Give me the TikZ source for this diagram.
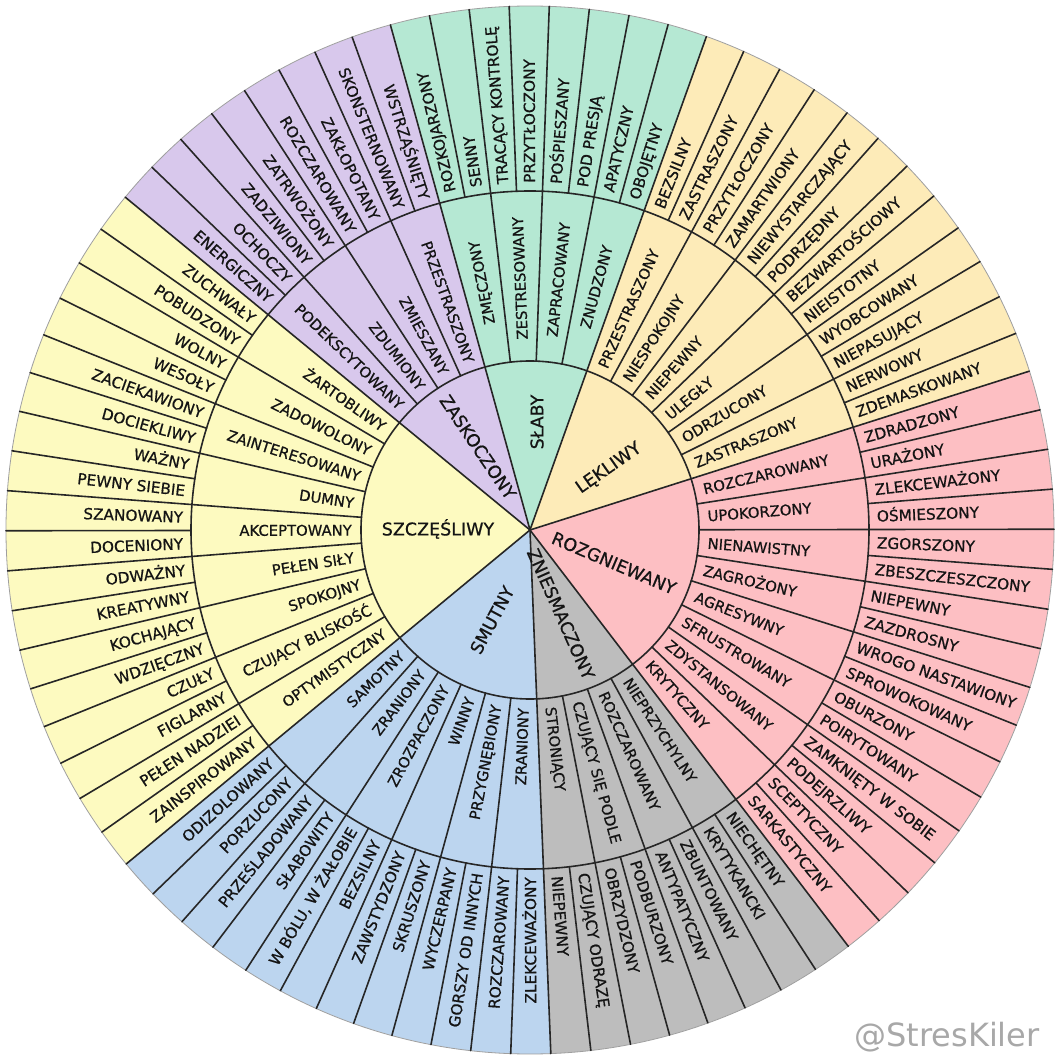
\documentclass[tikz,border=0pt]{standalone}
\usepackage{fontspec}
\setmainfont{DejaVu Sans}[FakeBold=0.7]
\newfontfamily\markfont{DejaVu Sans}
\definecolor{cGreen}{HTML}{B5E8D3}
\definecolor{cPeach}{HTML}{FDEBB8}
\definecolor{cPink}{HTML}{FDBFC3}
\definecolor{cGrey}{HTML}{BDBDBD}
\definecolor{cBlue}{HTML}{BCD5EF}
\definecolor{cYellow}{HTML}{FDFAC0}
\definecolor{cPurple}{HTML}{D8C8EC}
\definecolor{cLine}{HTML}{262626}
\definecolor{cText}{HTML}{141414}
\definecolor{cMark}{HTML}{A8A8A8}
\newcommand\wS{4.390244}
\newcommand\wA{105.45}
\tikzset{
  spoke/.style={draw=cLine, line width=1.6pt, line cap=round},
  ringline/.style={draw=cLine, line width=1.6pt},
  rimline/.style={draw=gray!75, line width=0.8pt},
  word/.style={inner sep=0pt, text height=11.1pt, text depth=0pt, text=cText, font=\fontsize{15.3}{18}\selectfont},
  midword/.style={inner sep=0pt, text height=10.8pt, text depth=0pt, text=cText, font=\fontsize{14.8}{17}\selectfont},
  corelabel/.style={inner sep=0pt, text height=12.8pt, text depth=0pt, text=cText, font=\fontsize{17.5}{20}\selectfont},
  watermark/.style={inner sep=0pt, text=cMark, font=\markfont\fontsize{32}{36}\selectfont}
}
\newcommand\wedgefill[3]{%
  \pgfmathsetmacro\wSa{\wA-#1*\wS}%
  \pgfmathsetmacro\wSe{\wA-#2*\wS}%
  \fill[#3] (0,0) -- (\wSa:524pt) arc[start angle=\wSa, end angle=\wSe, radius=524pt] -- cycle;
}
% outward reading words, anchored at inner end
\newcommand\wordsO[6]{%
  \foreach \wtxt [count=\wi from 0] in {#6} {
    \pgfmathsetmacro\wa{\wA-(#3+\wi+0.5)*#4}
    \node[#2, anchor=west, rotate=\wa] (#1\wi) at (\wa:#5pt) {\wtxt};
  }
}
% inward reading words, anchored at inner end
\newcommand\wordsI[6]{%
  \foreach \wtxt [count=\wi from 0] in {#6} {
    \pgfmathsetmacro\wa{\wA-(#3+\wi+0.5)*#4}
    \pgfmathsetmacro\wr{\wa+180}
    \node[#2, anchor=east, rotate=\wr] (#1\wi) at (\wa:#5pt) {\wtxt};
  }
}
% outward reading words, centred
\newcommand\wordsC[6]{%
  \foreach \wtxt [count=\wi from 0] in {#6} {
    \pgfmathsetmacro\wa{\wA-(#3+\wi+0.5)*#4}
    \node[#2, anchor=center, rotate=\wa] (#1\wi) at (\wa:#5pt) {\wtxt};
  }
}
\begin{document}
\begin{tikzpicture}[x=1pt,y=1pt]
\useasboundingbox (-530,-530) rectangle (530,530);
\fill[white] (-530,-530) rectangle (530,530);
% sectors
\wedgefill{0}{8}{cGreen}
\wedgefill{8}{20}{cPeach}
\wedgefill{20}{36}{cPink}
\wedgefill{36}{44}{cGrey}
\wedgefill{44}{56}{cBlue}
\wedgefill{56}{74}{cYellow}
\wedgefill{74}{82}{cPurple}
\draw[rimline] (0,0) circle[radius=524pt];
% spokes
\foreach \k in {1,3,...,81} {
  \pgfmathsetmacro\wa{\wA-\k*\wS}
  \draw[spoke] (\wa:339pt) -- (\wa:524pt);
}
\foreach \k in {0,2,...,80} {
  \pgfmathsetmacro\wa{\wA-\k*\wS}
  \draw[spoke] (\wa:169pt) -- (\wa:524pt);
}
\foreach \k in {0,8,20,36,44,56,74} {
  \pgfmathsetmacro\wa{\wA-\k*\wS}
  \draw[spoke] (0,0) -- (\wa:169pt);
}
\draw[ringline] (0,0) circle[radius=169pt];
\draw[ringline] (0,0) circle[radius=339pt];
% outer ring words
\wordsO{oSl}{word}{0}{4.390244}{347}{ROZKOJARZONY,SENNY,TRACĄCY KONTROLĘ,PRZYTŁOCZONY,POŚPIESZANY,POD PRESJĄ,APATYCZNY,OBOJĘTNY}
\wordsO{oLe}{word}{8}{4.390244}{347}{BEZSILNY,ZASTRASZONY,PRZYTŁOCZONY,ZAMARTWIONY,NIEWYSTARCZAJĄCY,PODRZĘDNY,BEZWARTOŚCIOWY,NIEISTOTNY,WYOBCOWANY,NIEPASUJĄCY,NERWOWY,ZDEMASKOWANY}
\wordsO{oRo}{word}{20}{4.390244}{347}{ZDRADZONY,URAŻONY,ZLEKCEWAŻONY,OŚMIESZONY,ZGORSZONY,ZBESZCZESZCZONY,NIEPEWNY,ZAZDROSNY,WROGO NASTAWIONY,SPROWOKOWANY,OBURZONY,POIRYTOWANY,ZAMKNIĘTY W SOBIE,PODEJRZLIWY,SCEPTYCZNY,SARKASTYCZNY}
\wordsO{oZn}{word}{36}{4.390244}{347}{NIECHĘTNY,KRYTYKANCKI,ZBUNTOWANY,ANTYPATYCZNY,PODBURZONY,OBRZYDZONY,CZUJĄCY ODRAZĘ,NIEPEWNY}
\wordsI{oSm}{word}{44}{4.390244}{347}{ZLEKCEWAŻONY,ROZCZAROWANY,GORSZY OD INNYCH,WYCZERPANY,SKRUSZONY,ZAWSTYDZONY,BEZSILNY,{W BÓLU, W ŻAŁOBIE},SŁABOWITY,PRZEŚLADOWANY,PORZUCONY,ODIZOLOWANY}
\wordsI{oSz}{word}{56}{4.390244}{347}{ZAINSPIROWANY,PEŁEN NADZIEI,FIGLARNY,CZUŁY,WDZIĘCZNY,KOCHAJĄCY,KREATYWNY,ODWAŻNY,DOCENIONY,SZANOWANY,PEWNY SIEBIE,WAŻNY,DOCIEKLIWY,ZACIEKAWIONY,WESOŁY,WOLNY,POBUDZONY,ZUCHWAŁY}
\wordsI{oZa}{word}{74}{4.390244}{347}{ENERGICZNY,OCHOCZY,ZADZIWIONY,ZATRWOŻONY,ROZCZAROWANY,ZAKŁOPOTANY,SKONSTERNOWANY,WSTRZĄŚNIĘTY}
% middle ring words
\wordsC{mSl}{midword}{0}{8.780488}{252}{ZMĘCZONY,ZESTRESOWANY,ZAPRACOWANY,ZNUDZONY}
\wordsO{mLe}{midword}{4}{8.780488}{178}{PRZESTRASZONY,NIESPOKOJNY,NIEPEWNY,ULEGŁY,ODRZUCONY,ZASTRASZONY}
\wordsO{mRo}{midword}{10}{8.780488}{178}{ROZCZAROWANY,UPOKORZONY,NIENAWISTNY,ZAGROŻONY,AGRESYWNY,SFRUSTROWANY,ZDYSTANSOWANY,KRYTYCZNY}
\wordsO{mZn}{midword}{18}{8.780488}{178}{NIEPRZYCHYLNY,ROZCZAROWANY,CZUJĄCY SIĘ PODLE,STRONIĄCY}
\wordsI{mSm}{midword}{22}{8.780488}{178}{ZRANIONY,PRZYGNĘBIONY,WINNY,ZROZPACZONY,ZRANIONY,SAMOTNY}
\wordsI{mSz}{midword}{28}{8.780488}{178}{OPTYMISTYCZNY,CZUJĄCY BLISKOŚĆ,SPOKOJNY,PEŁEN SIŁY,AKCEPTOWANY,DUMNY,ZAINTERESOWANY,ZADOWOLONY,ŻARTOBLIWY}
\wordsI{mZa}{midword}{37}{8.780488}{178}{PODEKSCYTOWANY,ZDUMIONY,ZMIESZANY,PRZESTRASZONY}
% core labels
\node[corelabel, rotate=90] (cSlaby) at (7,108) {SŁABY};
\node[corelabel, rotate=35] (cLekliwy) at (78,63) {LĘKLIWY};
\node[corelabel, rotate=-23] (cRozg) at (84,-33) {ROZGNIEWANY};
\node[corelabel, rotate=-66] (cZniesm) at (31,-84) {ZNIESMACZONY};
\node[corelabel, rotate=62] (cSmutny) at (-38,-90) {SMUTNY};
\node[corelabel] (cSzcz) at (-92,1) {SZCZĘŚLIWY};
\node[corelabel, rotate=-56] (cZask) at (-52,83) {ZASKOCZONY};
% watermark
\node[watermark] (wm) at (417,-507) {@StresKiler};
\end{tikzpicture}
\end{document}
